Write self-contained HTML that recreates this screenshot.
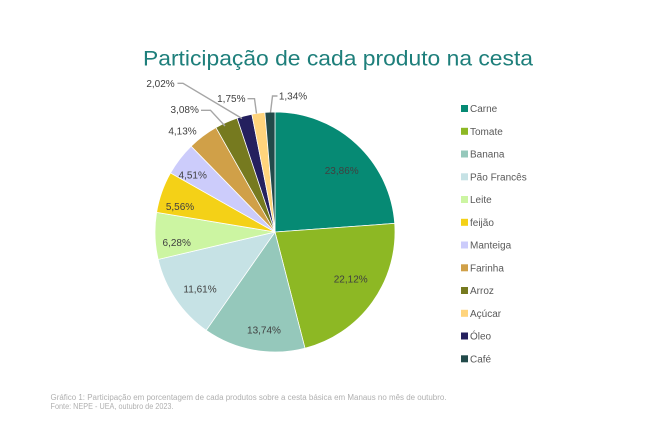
<!DOCTYPE html>
<html><head><meta charset="utf-8"><style>
html,body{margin:0;padding:0;background:#fff;}
svg{display:block;}
text{font-family:"Liberation Sans",Arial,sans-serif;}
</style></head><body>
<svg width="648" height="426" viewBox="0 0 648 426" xmlns="http://www.w3.org/2000/svg">
<rect width="648" height="426" fill="#fff"/>
<text x="143" y="65.5" font-size="21" fill="#1E7F7B" textLength="390" lengthAdjust="spacingAndGlyphs">Participação de cada produto na cesta</text>
<g stroke="#fff" stroke-width="0.75" stroke-linejoin="round">
<path d="M275,232 L275,112 A120,120 0 0 1 394.69,223.41 Z" fill="#068A74"/>
<path d="M275,232 L394.69,223.41 A120,120 0 0 1 304.99,348.19 Z" fill="#8DB824"/>
<path d="M275,232 L304.99,348.19 A120,120 0 0 1 206.18,330.31 Z" fill="#95C8BB"/>
<path d="M275,232 L206.18,330.31 A120,120 0 0 1 158.18,259.43 Z" fill="#C6E2E5"/>
<path d="M275,232 L158.18,259.43 A120,120 0 0 1 156.61,212.41 Z" fill="#CCF5A2"/>
<path d="M275,232 L156.61,212.41 A120,120 0 0 1 170.51,172.98 Z" fill="#F4D117"/>
<path d="M275,232 L170.51,172.98 A120,120 0 0 1 191.11,146.19 Z" fill="#CCCCFB"/>
<path d="M275,232 L191.11,146.19 A120,120 0 0 1 215.94,127.54 Z" fill="#D0A048"/>
<path d="M275,232 L215.94,127.54 A120,120 0 0 1 237.13,118.13 Z" fill="#767A1F"/>
<path d="M275,232 L237.13,118.13 A120,120 0 0 1 251.85,114.25 Z" fill="#24205E"/>
<path d="M275,232 L251.85,114.25 A120,120 0 0 1 264.91,112.42 Z" fill="#FFD47C"/>
<path d="M275,232 L264.91,112.42 A120,120 0 0 1 275,112 Z" fill="#224A4A"/>
</g>
<g fill="none" stroke="#A6A6A6" stroke-width="1.4">
<polyline points="177.5,83.3 183,83.3 242,118.5"/>
<polyline points="247.5,98.7 254.5,98.7 256.5,113.5"/>
<polyline points="277.5,96 272.5,96 270.5,112.5"/>
<polyline points="201,110.3 210.5,110.3 225,126"/>
</g>
<g font-size="10" fill="#404040" text-anchor="middle">
<text x="341.7" y="174">23,86%</text>
<text x="350.7" y="282.5">22,12%</text>
<text x="264" y="333.5">13,74%</text>
<text x="200" y="292.5">11,61%</text>
<text x="176.7" y="245.8">6,28%</text>
<text x="180" y="210">5,56%</text>
<text x="192.7" y="178.5">4,51%</text>
<text x="182.5" y="134.5">4,13%</text>
<text x="184.7" y="113.2">3,08%</text>
<text x="160.5" y="86.8">2,02%</text>
<text x="231.3" y="102.2">1,75%</text>
<text x="293" y="99.5">1,34%</text>
</g>
<g font-size="10" fill="#595959">
<rect x="461" y="105" width="7" height="7" fill="#068A74"/><text x="470" y="112">Carne</text>
<rect x="461" y="127.8" width="7" height="7" fill="#8DB824"/><text x="470" y="134.8">Tomate</text>
<rect x="461" y="150.5" width="7" height="7" fill="#95C8BB"/><text x="470" y="157.5">Banana</text>
<rect x="461" y="173.3" width="7" height="7" fill="#C6E2E5"/><text x="470" y="180.3">Pão Francês</text>
<rect x="461" y="196" width="7" height="7" fill="#CCF5A2"/><text x="470" y="203">Leite</text>
<rect x="461" y="218.8" width="7" height="7" fill="#F4D117"/><text x="470" y="225.8">feijão</text>
<rect x="461" y="241.5" width="7" height="7" fill="#CCCCFB"/><text x="470" y="248.5">Manteiga</text>
<rect x="461" y="264.3" width="7" height="7" fill="#D0A048"/><text x="470" y="271.3">Farinha</text>
<rect x="461" y="287" width="7" height="7" fill="#767A1F"/><text x="470" y="294">Arroz</text>
<rect x="461" y="309.8" width="7" height="7" fill="#FFD47C"/><text x="470" y="316.8">Açúcar</text>
<rect x="461" y="332.5" width="7" height="7" fill="#24205E"/><text x="470" y="339.5">Óleo</text>
<rect x="461" y="355.3" width="7" height="7" fill="#224A4A"/><text x="470" y="362.3">Café</text>
</g>
<g font-size="8" fill="#B0B0B0">
<text x="50.5" y="400" textLength="396" lengthAdjust="spacingAndGlyphs">Gráfico 1: Participação em porcentagem de cada produtos sobre a cesta básica em Manaus no mês de outubro.</text>
<text x="50.5" y="409" textLength="123" lengthAdjust="spacingAndGlyphs">Fonte: NEPE - UEA, outubro de 2023.</text>
</g>
</svg>
</body></html>
